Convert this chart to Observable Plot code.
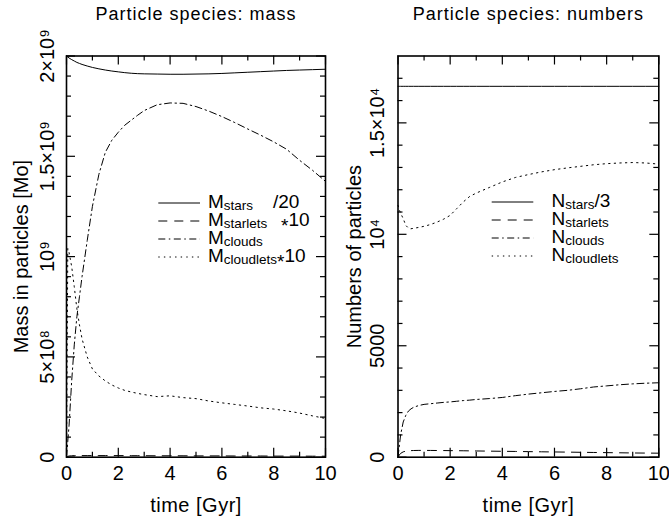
<!DOCTYPE html>
<html>
<head>
<meta charset="utf-8">
<script src="https://cdn.jsdelivr.net/npm/d3@7"></script>
<script src="https://cdn.jsdelivr.net/npm/@observablehq/plot@0.6"></script>
<style>
  body { margin: 0; background: #fff; }
  #page { position: relative; width: 669px; height: 521px; overflow: hidden;
          font-family: "Liberation Sans", Arial, sans-serif; background: #fff; }
  #page > svg { position: absolute; top: 0; }
  g[aria-description="panel title"] text { letter-spacing: 1px; }
  g[aria-description="axis title"] text { letter-spacing: 0.5px; }
</style>
</head>
<body>
<div id="page"></div>
<script>
// Simulation time in Gyr, shared by every curve
const time = [0, 0.05, 0.1, 0.2, 0.3, 0.4, 0.5, 0.6, 0.8, 1.0, 1.25, 1.5, 1.75, 2, 2.25, 2.5, 2.75, 3,
              3.5, 4, 4.5, 5, 5.5, 6, 6.5, 7, 7.5, 8, 8.5, 9, 9.5, 10];

// Mass held by each particle species [Mo] (stars scaled by 1/20, starlets and cloudlets by 10)
const massStars = [2.000e9, 1.995e9, 1.990e9, 1.982e9, 1.975e9, 1.968e9, 1.963e9, 1.958e9, 1.950e9, 1.943e9,
                   1.936e9, 1.930e9, 1.925e9, 1.921e9, 1.917e9, 1.914e9, 1.912e9, 1.911e9, 1.910e9, 1.909e9,
                   1.909e9, 1.910e9, 1.911e9, 1.913e9, 1.916e9, 1.919e9, 1.922e9, 1.925e9, 1.928e9, 1.930e9,
                   1.932e9, 1.934e9];
const massStarlets = [0, 4e6, 6e6, 7e6, 8e6, 8e6, 8e6, 8e6, 8e6, 8e6, 8e6, 8e6, 8e6, 8e6, 8e6, 7.5e6, 7.5e6, 7.5e6,
                      7e6, 7e6, 7e6, 6.5e6, 6.5e6, 6.5e6, 6e6, 6e6, 6e6, 5.5e6, 5.5e6, 5.5e6, 5e6, 5e6];
const massClouds = [0, 0.08e9, 0.16e9, 0.38e9, 0.56e9, 0.70e9, 0.80e9, 0.90e9, 1.08e9, 1.25e9,
                    1.41e9, 1.52e9, 1.58e9, 1.62e9, 1.655e9, 1.68e9, 1.705e9, 1.728e9, 1.757e9, 1.766e9,
                    1.764e9, 1.748e9, 1.725e9, 1.698e9, 1.668e9, 1.636e9, 1.605e9, 1.572e9, 1.535e9, 1.48e9,
                    1.43e9, 1.375e9];
const massCloudlets = [0, 1.04e9, 1.02e9, 0.95e9, 0.85e9, 0.74e9, 0.66e9, 0.59e9, 0.50e9, 0.44e9,
                       0.405e9, 0.38e9, 0.36e9, 0.345e9, 0.333e9, 0.325e9, 0.318e9, 0.312e9, 0.302e9, 0.306e9,
                       0.297e9, 0.292e9, 0.280e9, 0.271e9, 0.263e9, 0.255e9, 0.246e9, 0.240e9, 0.231e9, 0.220e9,
                       0.206e9, 0.193e9];

// Number of particles of each species (stars scaled by 1/3)
const numStars = [16640, 16640, 16640, 16640, 16640, 16640, 16640, 16640, 16640, 16640, 16640, 16640, 16640,
                  16640, 16640, 16640, 16640, 16640, 16640, 16640, 16640, 16640, 16640, 16640, 16640, 16640,
                  16640, 16640, 16640, 16640, 16640, 16640];
const numStarlets = [0, 100, 170, 240, 270, 285, 295, 300, 305, 305, 303, 300, 298, 295, 292, 288, 284, 280,
                     272, 265, 258, 250, 242, 235, 228, 220, 212, 205, 198, 190, 185, 180];
const numClouds = [0, 500, 1000, 1580, 1880, 2070, 2170, 2240, 2320, 2370, 2400, 2430, 2460, 2480, 2510, 2540,
                   2560, 2590, 2630, 2680, 2760, 2830, 2890, 2950, 3000, 3070, 3150, 3200, 3250, 3290, 3320, 3340];
const numCloudlets = [11300, 11100, 10950, 10700, 10400, 10280, 10250, 10270, 10310, 10360, 10440, 10550, 10680,
                      10850, 11150, 11450, 11700, 11850, 12100, 12350, 12550, 12680, 12800, 12900, 12980, 13050,
                      13120, 13170, 13200, 13220, 13200, 13150];

// Axis ticks and their labels
const xMajor = [0, 2, 4, 6, 8, 10];
const xMinor = [1, 3, 5, 7, 9];
const massMajor = [0, 5e8, 1e9, 1.5e9, 2e9];
const massMajorText = ["0", "5×10⁸", "10⁹", "1.5×10⁹", "2×10⁹"];
const massMinor = d3.range(1e8, 2e9, 1e8).filter(v => v % 5e8 !== 0);
const numMajor = [0, 5000, 10000, 15000];
const numMajorText = ["0", "5000", "10⁴", "1.5×10⁴"];
const numMinor = d3.range(1000, 18000, 1000).filter(v => v % 5000 !== 0);

// Line styles per species: stars, starlets, clouds, cloudlets
const dashes = [null, "9,7", "7,3.5,1.5,3.5", "1.4,4.2"];

const FONT = '"Liberation Sans", Arial, sans-serif';
const H = 521, MT = 55.5, MB = 64.3;

function panel({width, mL, mR, yMax, series, title, yLabel, yMajor, yMajorText, yMinor, tickDx, labelDx}) {
  const fw = width - mL - mR, fh = H - MT - MB;
  const major = 9, minor = 5;
  const ticks = (vals, len, dim) => dim === "x"
    ? [Plot.tickX(vals, {x: d => d, insetBottom: fh - len, strokeWidth: 1.2}),
       Plot.tickX(vals, {x: d => d, insetTop: fh - len, strokeWidth: 1.2})]
    : [Plot.tickY(vals, {y: d => d, insetRight: fw - len, strokeWidth: 1.2}),
       Plot.tickY(vals, {y: d => d, insetLeft: fw - len, strokeWidth: 1.2})];
  return Plot.plot({
    width, height: H,
    marginLeft: mL, marginRight: mR, marginTop: MT, marginBottom: MB,
    x: {domain: [0, 10], axis: null},
    y: {domain: [0, yMax], axis: null},
    style: {fontFamily: FONT, color: "black", background: "transparent", overflow: "visible"},
    marks: [
      ...series.map((vals, k) => Plot.line(vals, {
        x: (_, i) => time[i], y: d => d,
        stroke: "black", strokeWidth: 1, strokeDasharray: dashes[k]
      })),
      ...ticks(xMajor, major, "x"),
      ...ticks(xMinor, minor, "x"),
      ...ticks(yMajor, major, "y"),
      ...ticks(yMinor, minor, "y"),
      Plot.frame({stroke: "black", strokeWidth: 1.6}),
      Plot.text(xMajor, {x: d => d, text: d => String(d), frameAnchor: "bottom",
                         lineAnchor: "bottom", dy: 23, fontSize: 20, fill: "black"}),
      Plot.text(yMajor, {y: d => d, text: (d, i) => yMajorText[i], frameAnchor: "left",
                         rotate: -90, textAnchor: "middle", lineAnchor: "bottom",
                         dx: tickDx, fontSize: 20, fill: "black"}),
      Plot.text(["time [Gyr]"], {frameAnchor: "bottom", lineAnchor: "bottom", dy: 55,
                                 fontSize: 20, fill: "black", ariaDescription: "axis title"}),
      Plot.text([yLabel], {frameAnchor: "left", rotate: -90, textAnchor: "middle", lineAnchor: "bottom",
                           dx: labelDx, fontSize: 20, fill: "black"}),
      Plot.text([title], {frameAnchor: "top", lineAnchor: "bottom", dy: 19 - MT, fontSize: 18,
                          fill: "black", ariaDescription: "panel title"})
    ]
  });
}

const page = document.getElementById("page");

const left = panel({
  width: 334, mL: 66, mR: 9, yMax: 2e9,
  series: [massStars, massStarlets, massClouds, massCloudlets],
  title: "Particle species: mass", yLabel: "Mass in particles [Mo]",
  yMajor: massMajor, yMajorText: massMajorText, yMinor: massMinor,
  tickDx: -13, labelDx: -39
});
left.style.left = "0px";
page.appendChild(left);

const right = panel({
  width: 334, mL: 62.5, mR: 10.7, yMax: 18000,
  series: [numStars, numStarlets, numClouds, numCloudlets],
  title: "Particle species: numbers", yLabel: "Numbers of particles",
  yMajor: numMajor, yMajorText: numMajorText, yMinor: numMinor,
  tickDx: -14.5, labelDx: -37.5
});
right.style.left = "335px";
page.appendChild(right);

// Legends: line sample, symbol with subscript, optional scale factor
const massSubs = ["stars", "starlets", "clouds", "cloudlets"];
const massFactors = ["/20", "*10", "", "*10"];
const massFactorX = [273, 281, 0, 277];
const numSubs = ["stars", "starlets", "clouds", "cloudlets"];
const numFactors = ["/3", "", "", ""];

const overlay = d3.select(page).append("svg")
  .attr("width", 669).attr("height", 521)
  .style("left", "0px")
  .style("font-family", FONT);

function factorText(sel, s) {
  // an asterisk sits low and centred, the rest on the baseline
  if (s[0] === "*") {
    sel.append("tspan").attr("dy", 6).text("*");
    sel.append("tspan").attr("dy", -6).text(s.slice(1));
  } else {
    sel.append("tspan").text(s);
  }
}

function legend({x0, x1, tx, y0, symbol, subs, factors, factorX}) {
  const step = 18;
  subs.forEach((sub, k) => {
    const y = y0 + k * step;
    overlay.append("line")
      .attr("x1", x0).attr("x2", x1).attr("y1", y).attr("y2", y)
      .attr("stroke", "black").attr("stroke-width", 1)
      .attr("stroke-dasharray", dashes[k]);
    const t = overlay.append("text").attr("x", tx).attr("y", y + 5.4).attr("fill", "black");
    t.append("tspan").attr("font-size", 19).text(symbol);
    t.append("tspan").attr("font-size", 13.5).attr("dy", 1.2).text(sub);
    if (factors[k]) {
      if (factorX) {
        const f = overlay.append("text").attr("x", factorX[k]).attr("y", y + 5.4)
          .attr("font-size", 19).attr("fill", "black");
        factorText(f, factors[k]);
      } else {
        t.append("tspan").attr("font-size", 19).attr("dy", -1.2).text(factors[k]);
      }
    }
  });
}

legend({x0: 158.3, x1: 200, tx: 208, y0: 203, symbol: "M",
        subs: massSubs, factors: massFactors, factorX: massFactorX});
legend({x0: 491.7, x1: 533.3, tx: 551.5, y0: 202, symbol: "N",
        subs: numSubs, factors: numFactors, factorX: null});
</script>
</body>
</html>
